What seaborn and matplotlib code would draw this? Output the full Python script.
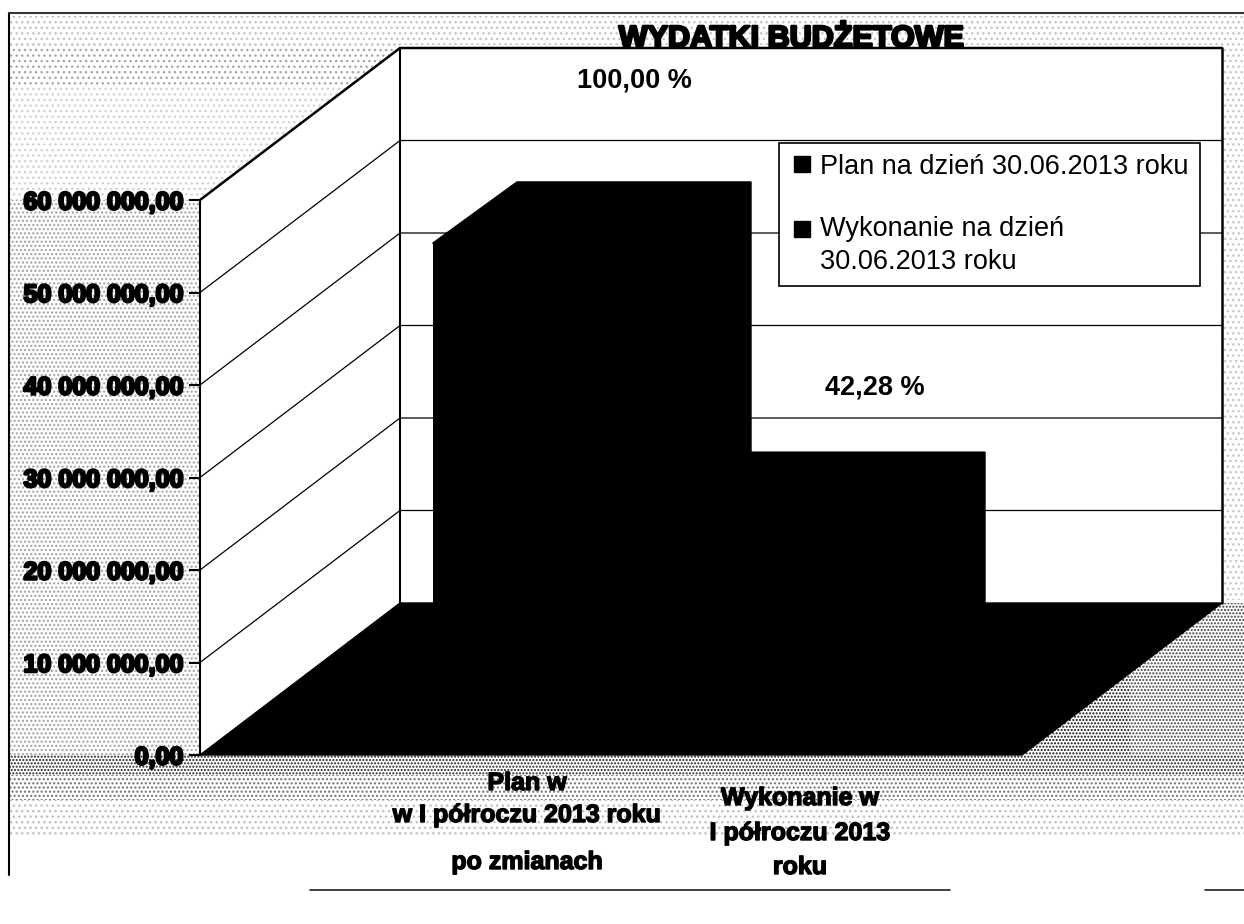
import matplotlib
matplotlib.use("Agg")
import matplotlib.pyplot as plt
import matplotlib.patheffects as pe
from matplotlib.legend_handler import HandlerLine2D
from matplotlib.lines import Line2D
from matplotlib.patches import Polygon, Rectangle
from matplotlib.ticker import FuncFormatter
import seaborn as sns
import pandas as pd

categories = ["Plan", "Wykonanie"]
values = [50600000, 21390000]
percent_labels = ["100,00 %", "42,28 %"]
tick_values = [0, 10000000, 20000000, 30000000, 40000000, 50000000, 60000000]
title = "WYDATKI BUDŻETOWE"
legend_labels = ["Plan na dzień 30.06.2013 roku", "Wykonanie na dzień\n30.06.2013 roku"]
cat_lines = [["Plan w", "w I półroczu 2013 roku", "po zmianach"],
             ["Wykonanie w", "I półroczu 2013", "roku"]]

sns.set_theme(style="white")
plt.rcParams["font.family"] = ["Liberation Sans", "DejaVu Sans"]
W, H = 1244, 924
fig = plt.figure(figsize=(W / 100, H / 100), dpi=100, facecolor="white")


def rect(l, t, r, b):
    return [l / W, 1 - b / H, (r - l) / W, (b - t) / H]


heavy = [pe.withStroke(linewidth=1.8, foreground="black")]

# page layer: pixel space, scan frame and halftone speckle
bg = fig.add_axes([0, 0, 1, 1], zorder=0)
bg.set_xlim(0, W)
bg.set_ylim(H, 0)
bg.axis("off")
speckle = [(10, 16, 1244, 45, "...", "#c4c4c4"), (10, 45, 400, 85, "...", "#a8a8a8"),
           (10, 85, 400, 200, "...", "#d2d2d2"),
           (10, 200, 200, 755, "....", "#a0a0a0"), (1222, 45, 1244, 600, "...", "#c8c8c8"),
           (10, 755, 1244, 775, ".....", "#202020"), (10, 775, 1244, 800, "....", "#707070"),
           (10, 800, 1244, 835, "...", "#c0c0c0"), (1000, 603, 1130, 755, ".....", "#101010"),
           (1130, 603, 1244, 755, ".....", "#404040")]
for l, t, r, b, h, c in speckle:
    bg.add_patch(Rectangle((l, t), r - l, b - t, facecolor="none", edgecolor=c, lw=0, hatch=h))
bg.plot([9, 9], [13, 875], color="black", lw=1.5)
bg.plot([9, 1244], [13, 13], color="#333333", lw=1.5)
bg.plot([310, 950], [890, 890], color="#333333", lw=1.3)
bg.plot([1205, 1244], [890, 890], color="#333333", lw=1.3)

# front plane of the chart: value axis, walls, floor
ax = fig.add_axes(rect(200, 200, 1022, 755), zorder=1)
ax.patch.set_visible(False)
ax.set_xlim(0, 822)
ax.set_ylim(0, 60000000)
dx = 200
dy = 152 / 555 * 60000000
top = tick_values[-1]
ax.add_patch(Polygon([(dx, dy), (dx, top + dy), (822 + dx, top + dy), (822 + dx, dy)],
                     closed=True, facecolor="white", edgecolor="none", clip_on=False))
ax.add_patch(Polygon([(0, 0), (0, top), (dx, top + dy), (dx, dy)],
                     closed=True, facecolor="white", edgecolor="none", clip_on=False))
ax.add_patch(Polygon([(0, 0), (dx, dy), (822 + dx, dy), (822, 0)],
                     closed=True, facecolor="black", edgecolor="black", clip_on=False))
for v in tick_values[1:-1]:
    ax.plot([0, dx, 822 + dx], [v, v + dy, v + dy], color="black", lw=0.9, clip_on=False)
ax.plot([0, dx, 822 + dx], [top, top + dy, top + dy], color="black", lw=1.8, clip_on=False)
ax.plot([dx, dx], [dy, top + dy], color="black", lw=1.5, clip_on=False)
ax.plot([822 + dx, 822 + dx], [dy, top + dy], color="black", lw=1.8, clip_on=False)
for s in ["top", "right", "bottom"]:
    ax.spines[s].set_visible(False)
ax.spines["left"].set_color("black")
ax.spines["left"].set_linewidth(1.5)
ax.set_xticks([])
ax.set_yticks(tick_values)
ax.yaxis.set_major_formatter(FuncFormatter(lambda v, _: f"{v:,.2f}".replace(",", " ").replace(".", ",")))
ax.tick_params(axis="y", left=True, length=8, width=1.5, color="black", pad=4)
for lab in ax.get_yticklabels():
    lab.set_fontsize(18)
    lab.set_fontweight("bold")
    lab.set_color("black")
    lab.set_path_effects(heavy)

# bar plane: set back from the front plane by half of the depth
bars = fig.add_axes(rect(433, 156, 901, 711), zorder=2)
bars.patch.set_visible(False)
df = pd.DataFrame({"kategoria": categories, "wartosc": values})
sns.barplot(data=df, x="kategoria", y="wartosc", color="black", saturation=1, width=1.0, ax=bars,
            edgecolor="black", linewidth=1.5)
bars.set_xlim(-0.5, 1.5)
bars.set_ylim(0, 60000000)
bars.axis("off")
bx = 84 / 234
by = 61 / 555 * 60000000
label_dx = [0.36, 0.39]
label_dy = [11000000, 7000000]
for i, v in enumerate(values):
    bars.add_patch(Polygon([(i - 0.5, v), (i - 0.5 + bx, v + by), (i + 0.5 + bx, v + by),
                            (i + 0.5 + bx, by), (i + 0.5, 0)],
                           closed=True, facecolor="black", edgecolor="black", clip_on=False))
    bars.text(i + label_dx[i], v + by + label_dy[i], percent_labels[i],
              ha="center", va="center", fontsize=19.5, fontweight="bold", color="black", clip_on=False)


class RaisedHandle(HandlerLine2D):
    """Legend square beside the first line of a wrapped label."""

    def create_artists(self, legend, orig_handle, xdescent, ydescent, width, height, fontsize, trans):
        arts = super().create_artists(legend, orig_handle, xdescent, ydescent, width, height, fontsize, trans)
        for a in arts:
            a.set_ydata([y + 12.5 for y in a.get_ydata()])
        return arts


handles = [Line2D([], [], marker="s", linestyle="none", color="black", markersize=12) for _ in legend_labels]
leg = bars.legend(handles, legend_labels, loc="upper left",
                  bbox_to_anchor=(779 / W, 1 - 143 / H), bbox_transform=fig.transFigure,
                  fontsize=19.5, frameon=True, fancybox=False, framealpha=1, edgecolor="black",
                  facecolor="white", borderpad=0.4, labelspacing=1.35, handletextpad=0.25,
                  handlelength=0.87, borderaxespad=0, labelcolor="black",
                  handler_map={handles[1]: RaisedHandle(numpoints=1)})
leg.get_frame().set_linewidth(1.2)
leg.get_texts()[1].set_linespacing(1.35)

# title and category captions in the page layer, above everything
top_ax = fig.add_axes([0, 0, 1, 1], zorder=3)
top_ax.patch.set_visible(False)
top_ax.set_xlim(0, W)
top_ax.set_ylim(H, 0)
top_ax.axis("off")
top_ax.text(791, 39, title, ha="center", va="center", fontsize=22, fontweight="bold", color="black",
            path_effects=heavy)
cat_pos = [(527, [783, 815, 862]), (800, [798, 833, 867])]
for (cx, ys), lines in zip(cat_pos, cat_lines):
    for y, line in zip(ys, lines):
        top_ax.text(cx, y, line, ha="center", va="center", fontsize=18, fontweight="bold",
                    color="black", path_effects=[pe.withStroke(linewidth=1.0, foreground="black")])

fig.savefig("out.png", dpi=100, facecolor="white")
